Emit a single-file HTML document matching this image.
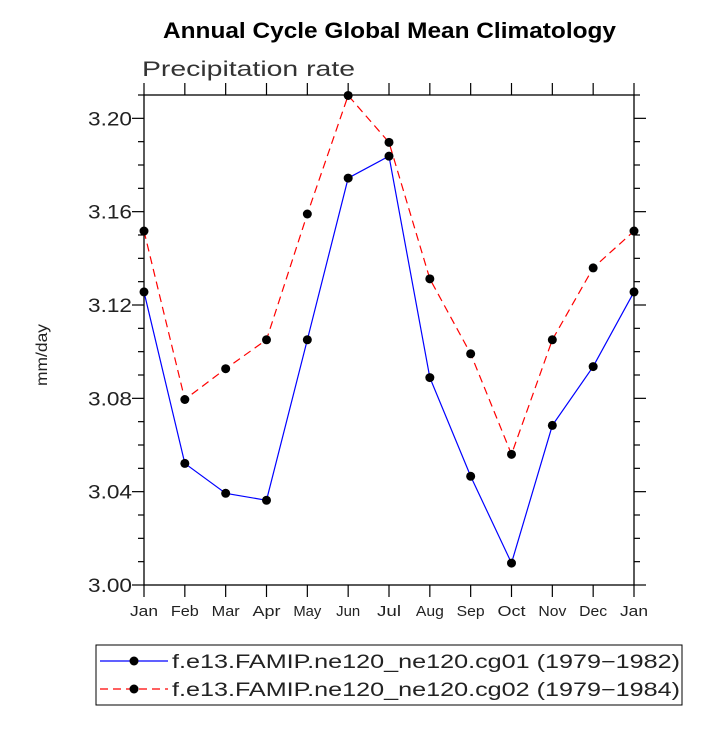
<!DOCTYPE html>
<html><head><meta charset="utf-8"><style>
body{margin:0;background:#fff;width:727px;height:727px;overflow:hidden}
text{font-family:"Liberation Sans","DejaVu Sans",sans-serif}
</style></head><body>
<svg id="chart" width="727" height="727">
<text x="163" y="38" font-size="22" font-weight="bold" textLength="453" lengthAdjust="spacingAndGlyphs">Annual Cycle Global Mean Climatology</text>
<text x="142" y="76" font-size="21" fill="#333" textLength="213" lengthAdjust="spacingAndGlyphs">Precipitation rate</text>
<text transform="translate(47,355) rotate(-90)" text-anchor="middle" font-size="16" fill="#222" textLength="62" lengthAdjust="spacingAndGlyphs">mm/day</text>
<g id="axes"></g>
<g id="series"></g>
<rect x="96" y="645" width="586" height="60" fill="none" stroke="#000" stroke-width="1"/>
<g>
<line x1="100" y1="661" x2="168" y2="661" stroke="#0000ff" stroke-width="1.2"/><circle cx="134" cy="661" r="4.5"/>
<text x="172" y="668" font-size="19" fill="#222" textLength="508" lengthAdjust="spacingAndGlyphs">f.e13.FAMIP.ne120_ne120.cg01 (1979−1982)</text></g>
<g>
<line x1="100" y1="689" x2="168" y2="689" stroke="#ff0000" stroke-width="1.2" stroke-dasharray="8,5"/><circle cx="134" cy="689" r="4.5"/>
<text x="172" y="696" font-size="19" fill="#222" textLength="508" lengthAdjust="spacingAndGlyphs">f.e13.FAMIP.ne120_ne120.cg02 (1979−1984)</text></g>
</svg>
<script>
const months=["Jan","Feb","Mar","Apr","May","Jun","Jul","Aug","Sep","Oct","Nov","Dec","Jan"];
const cg01=[3.1256,3.0521,3.0393,3.0363,3.1051,3.1744,3.1838,3.0889,3.0466,3.0094,3.0684,3.0936,3.1256];
const cg02=[3.1517,3.0795,3.0927,3.1051,3.159,3.2098,3.1897,3.1312,3.0991,3.056,3.1051,3.1359,3.1517];
const yTicks=[3.00,3.04,3.08,3.12,3.16,3.20];
const L=144,R=634,T=95,B=585,ymin=3.0,ymax=3.21;
const xs=i=>L+(R-L)*i/(months.length-1);
const ys=v=>B-(v-ymin)/(ymax-ymin)*(B-T);
const NS="http://www.w3.org/2000/svg";
function mk(tag,attrs,parent){const e=document.createElementNS(NS,tag);for(const k in attrs)e.setAttribute(k,attrs[k]);parent.appendChild(e);return e;}
const ax=document.getElementById('axes');
const frame=mk('rect',{x:L,y:T,width:R-L,height:B-T,fill:'none',stroke:'#000','stroke-width':1.3},ax);


months.forEach((m,i)=>{const x=xs(i);
mk('line',{x1:x,y1:B,x2:x,y2:B+12,stroke:'#000','stroke-width':1.2},ax);
mk('line',{x1:x,y1:T,x2:x,y2:T-12,stroke:'#000','stroke-width':1.2},ax);
const t=mk('text',{x:x,y:B+31,'text-anchor':'middle','font-size':15,fill:'#222',textLength:m==='Jul'||m==='Jun'?24:28,lengthAdjust:'spacingAndGlyphs'},ax);t.textContent=m;

});
for(let v=3.0;v<=3.2101;v+=0.01){const y=ys(v);const maj=Math.abs(Math.round(v*100)%4)===0;const len=maj?12:6;
mk('line',{x1:L,y1:y,x2:L-len,y2:y,stroke:'#000','stroke-width':1.2},ax);
mk('line',{x1:R,y1:y,x2:R+len,y2:y,stroke:'#000','stroke-width':1.2},ax);}
yTicks.forEach(v=>{const t=mk('text',{x:132,y:ys(v)+7,'text-anchor':'end','font-size':19,fill:'#222',textLength:44,lengthAdjust:'spacingAndGlyphs'},ax);t.textContent=v.toFixed(2);

});
const sg=document.getElementById('series');
function draw(vals,color,dash,name){const g=mk('g',{},sg);


mk('polyline',{points:vals.map((v,i)=>xs(i)+','+ys(v)).join(' '),fill:'none',stroke:color,'stroke-width':1.2,'stroke-dasharray':dash},g);
vals.forEach((v,i)=>{const c=mk('circle',{cx:xs(i),cy:ys(v),r:4.5,fill:'#000'},g);

});}
draw(cg02,'#ff0000','8,5','series-cg02');
draw(cg01,'#0000ff','none','series-cg01');
</script>
</body></html>
